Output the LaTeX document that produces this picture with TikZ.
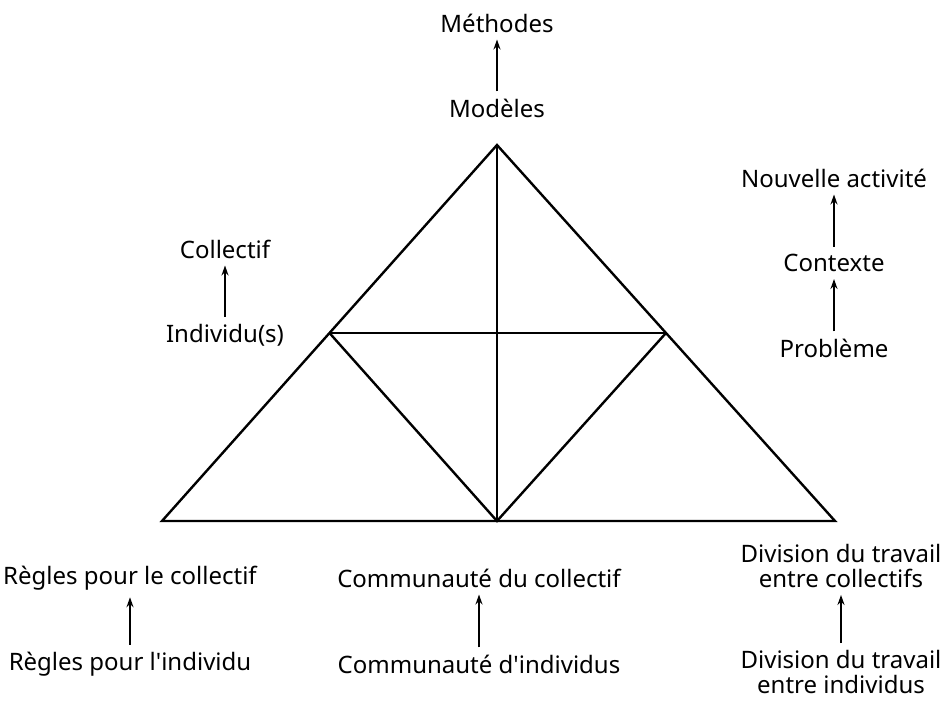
\documentclass[tikz,border=0pt]{standalone}
\usepackage{fontspec}
\setmainfont{Noto Sans}[Ligatures=TeXOff]
\usepackage{tikz}
\usetikzlibrary{positioning}
\usetikzlibrary{arrows.meta}

\tikzset{
  lbl/.style={font=\fontsize{24}{25}\selectfont, align=center, inner sep=2pt},
  upar/.style={black, line width=1.8pt, -{Stealth[length=10pt,width=7pt]},
    shorten >=5pt, shorten <=5pt},
  edge/.style={black, line width=2.4pt}
}

\begin{document}
\begin{tikzpicture}[x=1pt,y=-1pt]

\useasboundingbox (0,0) rectangle (946,701);

% triangle corners and midpoints
\coordinate(A) at (497, 145);
\coordinate(B) at (162, 521);
\coordinate(C) at (835, 521);
\coordinate(D) at (329.5, 333);
\coordinate(E) at (666, 333);
\coordinate(F) at (497, 521);

\draw [edge, line join=miter] (A) -- (B) -- (C) -- cycle;
\draw [edge] (A) -- (F);
\draw [edge] (D) -- (E);
\draw [edge] (D) -- (F) -- (E);

% top
\node[lbl] (methodes) at (497, 23) {Méthodes};
\node[lbl] (modeles) at (497, 108) {Modèles};
\draw [upar] (modeles) -- (methodes);

% left
\node[lbl] (collectif) at (225, 249) {Collectif};
\node[lbl] (individus) at (225, 335) {Individu(s)};
\draw [upar] (individus) -- (collectif);

% right
\node[lbl] (nouvelle) at (834, 178) {Nouvelle activité};
\node[lbl] (contexte) at (834, 263) {Contexte};
\node[lbl] (probleme) at (834, 348) {Problème};
\draw [upar] (probleme) -- (contexte);
\draw [upar] (contexte) -- (nouvelle);

% bottom
\node[lbl] (reglescol) at (130, 578) {Règles pour le collectif};
\node[lbl] (reglesind) at (130, 664) {Règles pour l'individu};
\draw [upar] (reglesind) -- (reglescol);

\node[lbl] (commcol) at (479, 578) {Communauté du collectif};
\node[lbl] (commind) at (479, 664) {Communauté d'individus};
\draw [upar] (commind) -- (commcol);

\node[lbl] (divcol) at (841, 566) {Division du travail\\entre collectifs};
\node[lbl] (divind) at (841, 672) {Division du travail\\entre individus};
\draw [upar] (divind) -- (divcol);

\end{tikzpicture}
\end{document}
